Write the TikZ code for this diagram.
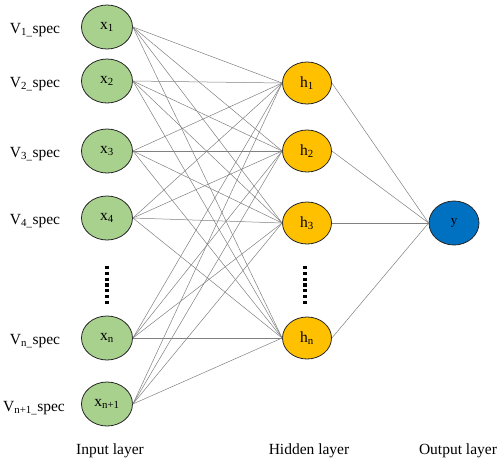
\documentclass[tikz,border=0pt]{standalone}
\usepackage{fontspec}
\setmainfont{Liberation Serif}
\usetikzlibrary{shapes.geometric}

\definecolor{inputgreen}{HTML}{A9D18E}
\definecolor{hiddenorange}{HTML}{FFC000}
\definecolor{outputblue}{HTML}{0070C0}

\tikzset{
  neuron/.style={ellipse, draw=black!85, line width=0.8pt, inner sep=0pt,
    minimum width=51pt, minimum height=44pt},
  innode/.style={neuron, fill=inputgreen},
  hidnode/.style={neuron, fill=hiddenorange, minimum width=49pt, minimum height=42pt},
  outnode/.style={neuron, fill=outputblue, minimum width=50pt},
  link/.style={draw=gray, line width=0.5pt},
  vdots/.style={line width=3.2pt, dash pattern=on 3.2pt off 2.6pt}
}

\begin{document}
\begin{tikzpicture}[x=1pt, y=-1pt, every node/.style={font=\fontsize{15.5}{18}\selectfont}]
	\useasboundingbox (0,0) rectangle (500,463);
	% input layer
	\node[innode] (x1) at (107,27) {x\textsubscript{1}};
	\node[innode] (x2) at (107,81) {x\textsubscript{2}};
	\node[innode] (x3) at (107,151) {x\textsubscript{3}};
	\node[innode] (x4) at (107,218) {x\textsubscript{4}};
	\node[innode] (x5) at (107,338) {x\textsubscript{n}};
	\node[innode] (x6) at (107,404) {x\textsubscript{n+1}};
	\node (v1) at (35,30) {V\textsubscript{1\_}spec};
	\node (v2) at (35,84) {V\textsubscript{2\_}spec};
	\node (v3) at (35,154) {V\textsubscript{3\_}spec};
	\node (v4) at (35,221) {V\textsubscript{4\_}spec};
	\node (v5) at (35,341) {V\textsubscript{n\_}spec};
	\node (v6) at (34,408) {V\textsubscript{n+1\_}spec};
	\draw[vdots] (107,266) -- (107,304);
	% hidden layer
	\node[hidnode] (h1) at (307,83) {h\textsubscript{1}};
	\node[hidnode] (h2) at (307,151) {h\textsubscript{2}};
	\node[hidnode] (h3) at (307,223) {h\textsubscript{3}};
	\node[hidnode] (h4) at (307,338) {h\textsubscript{n}};
	\draw[vdots] (305,266) -- (305,304);
	% output layer
	\node[outnode] (y) at (454,223) {\fontsize{13}{15}\selectfont y};
	% connections
	\foreach \i in {1,...,6}
		\foreach \j in {1,...,4}
			\draw[link] (x\i.east) -- (h\j.west);
	\foreach \j in {1,...,4}
		\draw[link] (h\j.east) -- (y.west);
	% layer names
	\node (inlbl) at (110,451) {Input layer};
	\node (hidlbl) at (309,451) {Hidden layer};
	\node (outlbl) at (458,451) {Output layer};
\end{tikzpicture}
\end{document}
